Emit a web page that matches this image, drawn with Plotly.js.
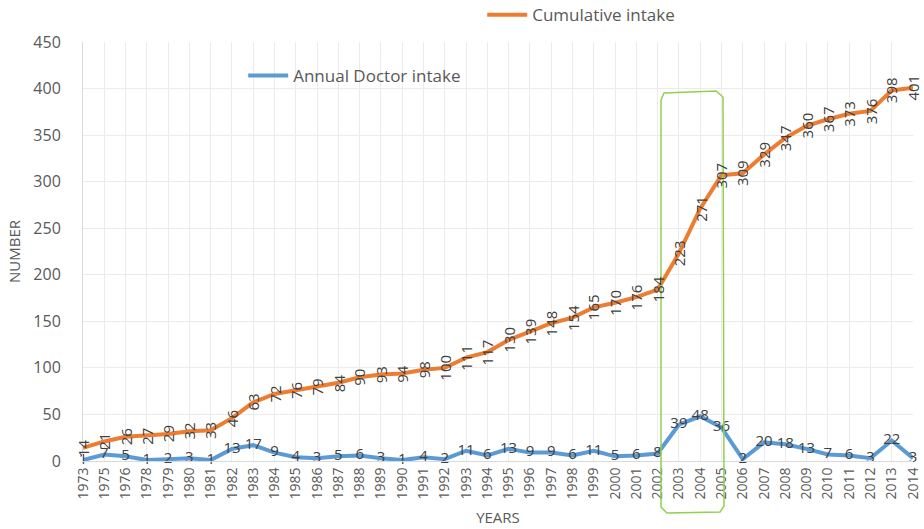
<!DOCTYPE html>
<html>
<head>
<meta charset="utf-8">
<script src="https://cdn.plot.ly/plotly-3.0.1.min.js"></script>
<style>html,body{margin:0;padding:0;background:#fff;}#chart{width:924px;height:529px;}</style>
</head>
<body>
<div id="chart"></div>
<script>
const years = ["1973","1975","1976","1978","1979","1980","1981","1982","1983","1984","1985","1986","1987","1988","1989","1990","1991","1992","1993","1994","1995","1996","1997","1998","1999","2000","2001","2002","2003","2004","2005","2006","2007","2008","2009","2010","2011","2012","2013","2014"];
const annualIntake = [1,7,5,1,2,3,1,13,17,9,4,3,5,6,3,1,4,2,11,6,13,9,9,6,11,5,6,8,39,48,36,2,20,18,13,7,6,3,22,3];
const cumulativeIntake = [14,21,26,27,29,32,33,46,63,72,76,79,84,90,93,94,98,100,111,117,130,139,148,154,165,170,176,184,223,271,307,309,329,347,360,367,373,376,398,401];

const FONT = "'Open Sans', 'Liberation Sans', sans-serif";
const labelColor = '#404040';

const traces = [
  {
    x: years, y: cumulativeIntake, name: 'Cumulative intake', type: 'scatter', mode: 'lines',
    line: {color: '#ED7D31', width: 4}, legend: 'legend'
  },
  {
    x: years, y: annualIntake, name: 'Annual Doctor intake', type: 'scatter', mode: 'lines+text',
    text: annualIntake.map(String), textposition: 'middle center', cliponaxis: false,
    textfont: {family: FONT, size: 15, color: labelColor},
    line: {color: '#5B9BD5', width: 4}, legend: 'legend2'
  }
];

// category axis: annotate by category index
const annotations = years.map((yr, i) => ({
  x: i, y: cumulativeIntake[i], xref: 'x', yref: 'y',
  text: String(cumulativeIntake[i]), textangle: -90, showarrow: false,
  xanchor: 'center', yanchor: 'middle',
  font: {family: FONT, size: 15, color: labelColor}
}));

// green highlight box (paper coordinates)
const L = 83, R = 913, T = 42, B = 461;
const px = v => ((v - L) / (R - L)).toFixed(4);
const py = v => ((B - v) / (B - T)).toFixed(4);
const pts = [[661,100],[664,93],[716,91],[723,97],[724,506],[720,512],[667,513],[661,507]];
const boxPath = 'M' + pts.map(p => px(p[0]) + ',' + py(p[1])).join(' L') + ' Z';

const layout = {
  width: 924, height: 529,
  margin: {l: 83, r: 11, t: 42, b: 68, autoexpand: false},
  paper_bgcolor: '#fff', plot_bgcolor: '#fff',
  font: {family: FONT, color: '#595959'},
  showlegend: true,
  legend: {
    x: 0.481, y: 1.064, xanchor: 'left', yanchor: 'middle', bgcolor: 'rgba(0,0,0,0)',
    font: {family: FONT, size: 17, color: '#595959'}, itemwidth: 40
  },
  legend2: {
    x: 0.193, y: 0.919, xanchor: 'left', yanchor: 'middle', bgcolor: 'rgba(0,0,0,0)',
    font: {family: FONT, size: 17, color: '#595959'}, itemwidth: 40
  },
  xaxis: {
    type: 'category', range: [0, 39], tickangle: -90,
    tickfont: {family: FONT, size: 14, color: '#595959'},
    showgrid: true, gridcolor: '#ebebeb', gridwidth: 1,
    showline: true, linecolor: '#d9d9d9', linewidth: 1,
    ticks: '', automargin: false,
    title: {text: 'YEARS', font: {family: FONT, size: 15, color: '#595959'}, standoff: 13}
  },
  yaxis: {
    range: [0, 450], dtick: 50, tick0: 0,
    tickfont: {family: FONT, size: 16, color: '#595959'},
    showgrid: true, gridcolor: '#ebebeb', gridwidth: 1,
    zeroline: false, showline: true, linecolor: '#d9d9d9', linewidth: 1,
    ticks: 'outside', ticklen: 18, tickcolor: 'rgba(0,0,0,0)', automargin: false,
    title: {text: 'NUMBER', font: {family: FONT, size: 15, color: '#595959'}, standoff: 9}
  },
  annotations: annotations,
  shapes: [{
    type: 'path', xref: 'paper', yref: 'paper', path: boxPath,
    line: {color: '#92D050', width: 1.5}, fillcolor: 'rgba(0,0,0,0)', layer: 'above'
  }]
};

Plotly.newPlot('chart', traces, layout, {displayModeBar: false, staticPlot: true});
</script>
</body>
</html>
